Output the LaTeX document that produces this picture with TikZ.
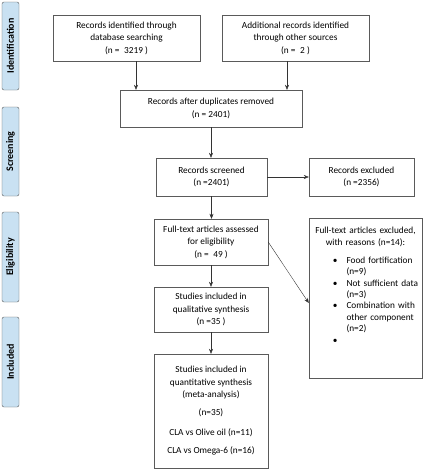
\documentclass[tikz,border=0pt]{standalone}
\usepackage{fontspec}
\usepackage{enumitem}
\setmainfont{Carlito}
\usetikzlibrary{arrows.meta}
\definecolor{stagefill}{RGB}{201,225,242}
\definecolor{boxline}{RGB}{90,90,90}
\tikzset{box/.style={draw=boxline, thin, align=center, inner sep=2pt,
font=\fontsize{9.3}{12.5}\selectfont},
stage/.style={draw=boxline, fill=stagefill, rounded corners=2pt, rotate=90,
minimum height=17pt, inner sep=1pt, font=\fontsize{10}{12}\selectfont\bfseries},
arr/.style={-{Stealth[length=5pt,width=4pt]}, thin, black!80}}

\begin{document}
\begin{tikzpicture}[x=1pt,y=-1pt]
	\useasboundingbox (0,0) rectangle (423,469);
	\node[stage, minimum width=88pt] (idlab) at (10.5,46) {Identification};
	\node[stage, minimum width=89pt] (sclab) at (10.5,151.5) {Screening};
	\node[stage, minimum width=90pt] (ellab) at (10.5,257) {Eligibility};
	\node[stage, minimum width=90pt] (inlab) at (10.5,362) {Included};
	\node[box, minimum width=147pt, minimum height=46pt] (dbrec) at (126.5,38)
		{Records identified through\\database searching\\(n =\enspace3219 )};
	\node[box, minimum width=147pt, minimum height=46pt] (otherrec) at (295.5,38)
		{Additional records identified\\through other sources\\(n =\enspace2 )};
	\node[box, minimum width=182pt, minimum height=37pt] (dedup) at (211,108.5)
		{Records after duplicates removed\\(n = 2401)};
	\node[box, minimum width=111pt, minimum height=38pt] (screened) at (211.5,177)
		{Records screened\\(n =2401)};
	\node[box, minimum width=105pt, minimum height=38pt] (excl) at (361.5,177)
		{Records excluded\\(n =2356)};
	\node[box, minimum width=114pt, minimum height=46pt] (fulltext) at (211,242)
		{Full-text articles assessed\\for eligibility\\(n =\enspace49 )};
	\node[box, minimum width=113pt, minimum height=160pt] (ftexcl) at (365.5,298) {};
	\node[anchor=north, inner sep=0pt, text width=108pt,
		font=\fontsize{9.3}{11.4}\selectfont] (ftexcltxt)
		at ([yshift=-9pt]ftexcl.north) {%
		{\centering Full-text articles excluded,\\[1pt]with reasons (n=14):\par}
		\begin{itemize}[leftmargin=35pt, labelsep=9pt, topsep=6pt, itemsep=0pt,
			parsep=0pt, partopsep=0pt]\raggedright
		\item Food fortification\newline(n=9)
		\item Not sufficient data\newline(n=3)
		\item Combination with\newline other component\newline(n=2)
		\item \mbox{}
		\end{itemize}};
	\node[box, minimum width=114pt, minimum height=45pt] (qual) at (211,309.5)
		{Studies included in\\qualitative synthesis\\(n =35 )};
	\node[box, minimum width=114pt, minimum height=114pt] (quant) at (211,411)
		{Studies included in\\quantitative synthesis\\(meta-analysis)\\[5.5pt]
		(n=35)\\[7.5pt]CLA vs Olive oil (n=11)\\[5.5pt]CLA vs Omega-6 (n=16)};
	\draw[arr] ([xshift=9.5pt]dbrec.south) -- ([xshift=9.5pt]dbrec.south |- dedup.north);
	\draw[arr] ([xshift=-8.5pt]otherrec.south) -- ([xshift=-8.5pt]otherrec.south |- dedup.north);
	\draw[arr] (dedup.south) -- (dedup.south |- screened.north);
	\draw[arr] (screened.east) -- (excl.west);
	\draw[arr] (screened.south) -- (screened.south |- fulltext.north);
	\draw[arr] (fulltext.east) -- ([yshift=-5pt]ftexcl.west);
	\draw[arr] (fulltext.south) -- (qual.north);
	\draw[arr] (qual.south) -- (quant.north);
\end{tikzpicture}
\end{document}
